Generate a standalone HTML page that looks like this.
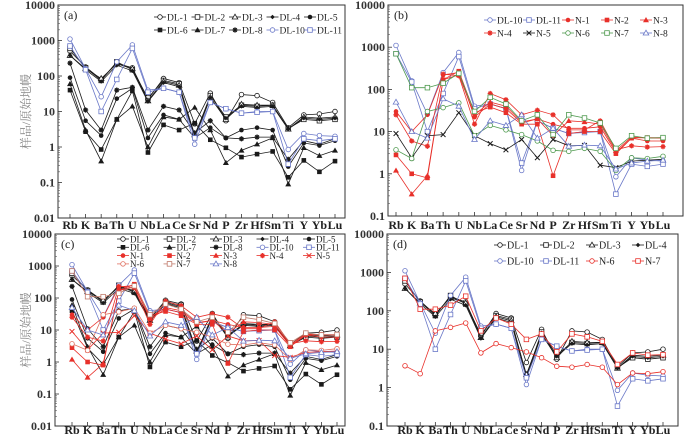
<!DOCTYPE html>
<html><head><meta charset="utf-8">
<style>
html,body{margin:0;padding:0;background:#fff;}
svg{display:block;}
svg text{font-family:"Liberation Serif","Noto Serif CJK SC",serif;}
</style></head>
<body>
<svg id="chart" width="700" height="438" viewBox="0 0 700 438" xmlns="http://www.w3.org/2000/svg"></svg>
<script>
const elements = ["Rb","K","Ba","Th","U","Nb","La","Ce","Sr","Nd","P","Zr","Hf","Sm","Ti","Y","Yb","Lu"];
const DL1  = [500,180,80,230,170,22,85,65,4.5,33,5.5,30,28,18,3.5,8,8.5,10];
const DL2  = [600,170,75,250,150,24,75,60,2,28,7,15,14,15,3.3,6,5.5,6];
const DL3  = [380,160,85,220,160,20,70,55,2.2,25,6,16,15,15,3.2,7,6.5,7];
const DL4  = [380,150,70,200,140,19,65,50,1.8,24,6.5,14,13,14,3.2,6.5,6,6.5];
const DL5  = [90,5.5,2.1,23,45,1.8,8,6,1.8,3.5,1.8,3.0,3.5,3.0,0.28,1.3,1.1,1.5];
const DL6  = [40,2.7,0.85,6,38,0.7,4.2,3,4.7,1.6,0.95,0.52,0.63,0.75,0.14,0.42,0.2,0.4];
const DL7  = [60,3,0.4,6,14,1.0,7,6,13,3,0.36,0.8,1.2,1.8,0.09,0.95,0.57,0.8];
const DL8  = [230,11,3,40,48,3,14,11,2.5,5.5,1.8,1.7,1.9,1.9,0.45,1.5,1.2,1.7];
const DL10 = [1100,160,26,250,750,40,45,35,1.2,18,12,9,10,10,0.85,2.4,2.1,2.0];
const DL11 = [700,150,10,80,600,35,45,35,1.8,18,12,9,9.5,10,0.33,1.7,1.5,1.7];
const N1 = [30,10,25,220,250,22,45,35,16,20,15,12,12,13,3.2,7,6,6];
const N2 = [2.8,1.0,0.8,170,270,28,38,28,15,15,0.9,9,10,10,3.0,7,7.2,7.2];
const N3 = [1.2,0.33,0.9,170,220,25,50,40,17,20,8,18,17,15,3.5,7.5,7,7];
const N4 = [25,6,4.5,230,210,15,80,57,25,32,25,11,11,18,3.7,4.6,4.3,4.4];
const N5 = [9,2.4,8,8.5,28,8,5.2,3.7,6.5,2.4,6.5,4.6,4.7,1.6,1.4,2.0,2.1,2.2];
const N6 = [3.7,2.3,30,37,48,8,14,11,8.5,6,3.6,3.4,4.0,3.4,1.2,2.4,2.3,2.6];
const N7 = [700,110,110,140,240,30,65,45,18,25,8.5,25,21,16,4.0,8,7,7.2];
const N8 = [50,10,7,60,40,6.5,18,14,25,7,12,4.5,4.8,4.6,1.3,1.8,2.0,2.1];

const K='#1a1a1a', BL='#6a78c8', RD='#e8302a', GR='#4f9a4f', SA='#e07060', BR='#c07a6a';
const S = {
 'DL-1':{d:DL1,m:'oc'},'DL-2':{d:DL2,m:'os'},'DL-3':{d:DL3,m:'ot'},'DL-4':{d:DL4,m:'fd'},'DL-5':{d:DL5,m:'fc'},
 'DL-6':{d:DL6,m:'fs'},'DL-7':{d:DL7,m:'ft'},'DL-8':{d:DL8,m:'st'},'DL-10':{d:DL10,m:'oc'},'DL-11':{d:DL11,m:'os'},
 'N-1':{d:N1,m:'fc'},'N-2':{d:N2,m:'fs'},'N-3':{d:N3,m:'ft'},'N-4':{d:N4,m:'st'},'N-5':{d:N5,m:'x'},
 'N-6':{d:N6,m:'oc'},'N-7':{d:N7,m:'os'},'N-8':{d:N8,m:'ot'}
};
const dlCol = n => (n==='DL-10'||n==='DL-11')?BL:K;
const panels = [
 {id:'a',L:58,R:345,T:5,B:218,top:4,bot:-2,x0:70,x1:335,xl:229,title:true,
  series:['DL-1','DL-2','DL-3','DL-4','DL-5','DL-6','DL-7','DL-8','DL-10','DL-11'],col:dlCol,
  leg:{x:160,y:17,dx:37.5,dy:13,per:5,fs:9.5}},
 {id:'b',L:388,R:683,T:5,B:216,top:4,bot:-1,x0:396,x1:663,xl:229,title:false,
  series:['DL-10','DL-11','N-1','N-2','N-3','N-4','N-5','N-6','N-7','N-8'],
  col:n=>n.startsWith('DL')?BL:(n==='N-5'?K:(n==='N-6'||n==='N-7')?GR:n==='N-8'?BL:RD),
  leg:{x:490,y:20,dx:39,dy:13,per:5,fs:9.5}},
 {id:'c',L:55,R:345,T:234,B:426,top:4,bot:-2,x0:72,x1:337,xl:434,title:true,
  series:['DL-1','DL-2','DL-3','DL-4','DL-5','DL-6','DL-7','DL-8','DL-10','DL-11','N-1','N-2','N-3','N-4','N-5','N-6','N-7','N-8'],
  col:n=>n.startsWith('DL')?dlCol(n):(n==='N-6'?SA:n==='N-7'?BR:n==='N-8'?BL:RD),
  leg:{x:123,y:239,dx:46.5,dy:8.3,per:5,fs:9}},
 {id:'d',L:387,R:678,T:234,B:426,top:4,bot:-1,x0:405,x1:663,xl:434,title:false,
  series:['DL-1','DL-2','DL-3','DL-4','DL-10','DL-11','N-6','N-7'],
  col:n=>n.startsWith('DL')?dlCol(n):RD,
  leg:{x:500,y:245,dx:46,dy:16,per:4,fs:10}}
];
const NS='http://www.w3.org/2000/svg';
const svg=document.getElementById('chart');
function mk(t,a,p){const e=document.createElementNS(NS,t);for(const k in a)e.setAttribute(k,a[k]);(p||svg).appendChild(e);return e;}
function marker(g,m,x,y,c){
  let e,r=2.3;
  if(m==='oc')e=mk('circle',{cx:x,cy:y,r:r,fill:'#fff',stroke:c,'stroke-width':0.8},g);
  else if(m==='fc')e=mk('circle',{cx:x,cy:y,r:r,fill:c},g);
  else if(m==='os')e=mk('rect',{x:x-r,y:y-r,width:2*r,height:2*r,fill:'#fff',stroke:c,'stroke-width':0.8},g);
  else if(m==='fs')e=mk('rect',{x:x-r,y:y-r,width:2*r,height:2*r,fill:c},g);
  else if(m==='ot')e=mk('polygon',{points:`${x},${y-2.8} ${x-2.8},${y+2} ${x+2.8},${y+2}`,fill:'#fff',stroke:c,'stroke-width':0.8},g);
  else if(m==='ft')e=mk('polygon',{points:`${x},${y-3} ${x-3},${y+2.2} ${x+3},${y+2.2}`,fill:c},g);
  else if(m==='fd')e=mk('polygon',{points:`${x},${y-2.3} ${x+2.3},${y} ${x},${y+2.3} ${x-2.3},${y}`,fill:c},g);
  else if(m==='st')e=mk('path',{d:`M${x-2.6} ${y}H${x+2.6}M${x} ${y-2.6}V${y+2.6}M${x-1.8} ${y-1.8}L${x+1.8} ${y+1.8}M${x-1.8} ${y+1.8}L${x+1.8} ${y-1.8}`,stroke:c,'stroke-width':1.3},g);
  else e=mk('path',{d:`M${x-2.4} ${y-2.4}L${x+2.4} ${y+2.4}M${x-2.4} ${y+2.4}L${x+2.4} ${y-2.4}`,stroke:c,'stroke-width':1},g);
  
  
}
panels.forEach(P=>{
  const g=mk('g',{});
  
  
  const yS=v=>P.T+(P.top-Math.log10(v))*(P.B-P.T)/(P.top-P.bot);
  const xS=i=>P.x0+i*(P.x1-P.x0)/(elements.length-1);
  const box=mk('rect',{x:P.L,y:P.T,width:P.R-P.L,height:P.B-P.T,fill:'none',stroke:'#333','stroke-width':1},g);
  
  
  for(let d=P.top;d>=P.bot;d--){
    const y=yS(Math.pow(10,d));
    mk('line',{x1:P.L,x2:P.L+4,y1:y,y2:y,stroke:'#333','stroke-width':0.8},g);
    const t=mk('text',{x:P.L-3,y:y+4,'text-anchor':'end','font-size':12,'font-weight':'bold',fill:'#333'},g);
    t.textContent=d>=0?String(Math.pow(10,d)):(d===-1?'0.1':'0.01');
    
    
    if(d>P.bot)for(let k=2;k<10;k++){const yy=yS(k*Math.pow(10,d-1));mk('line',{x1:P.L,x2:P.L+2,y1:yy,y2:yy,stroke:'#555','stroke-width':0.6},g);}
  }
  elements.forEach((el,i)=>{
    const x=xS(i);
    mk('line',{x1:x,x2:x,y1:P.B,y2:P.B-4,stroke:'#333','stroke-width':0.8},g);
    const t=mk('text',{x:x,y:P.xl,'text-anchor':'middle','font-size':12,'font-weight':'bold',fill:'#222'},g);
    t.textContent=el;
    
    
  });
  if(P.title){
    const cy=(P.T+P.B)/2;
    const t=mk('text',{x:30,y:cy,'text-anchor':'middle','font-size':12,fill:'#888',transform:`rotate(-90 30 ${cy})`},g);
    t.textContent='样品/原始地幔';
    
    
  }
  const lab=mk('text',{x:P.L+6,y:P.T+14,'font-size':12,fill:'#222'},g);
  lab.textContent='('+P.id+')';
  
  
  P.series.forEach(n=>{
    const c=P.col(n), sg=mk('g',{},g);
    
    
    const pts=S[n].d.map((v,i)=>xS(i).toFixed(1)+','+yS(v).toFixed(1)).join(' ');
    mk('polyline',{points:pts,fill:'none',stroke:c,'stroke-width':0.8},sg);
    S[n].d.forEach((v,i)=>marker(sg,S[n].m,xS(i),yS(v),c));
  });
  P.series.forEach((n,k)=>{
    const c=P.col(n), r=Math.floor(k/P.leg.per), q=k%P.leg.per;
    const lx=P.leg.x+q*P.leg.dx, ly=P.leg.y+r*P.leg.dy;
    const lg=mk('g',{},g);
    
    
    mk('line',{x1:lx-6,x2:lx+6,y1:ly,y2:ly,stroke:c,'stroke-width':0.8},lg);
    marker(lg,S[n].m,lx,ly,c);
    const t=mk('text',{x:lx+7,y:ly+3.3,'font-size':P.leg.fs,fill:'#222'},lg);
    t.textContent=n;
  });
});
</script>
</body></html>
